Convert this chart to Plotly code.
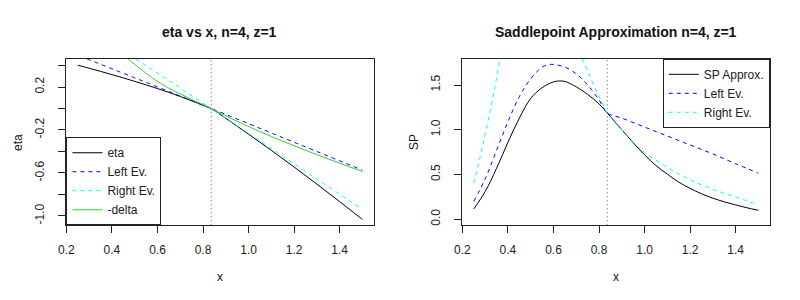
import plotly.graph_objects as go

# ---------------- data ----------------
x_split = 0.836  # vertical dotted reference line

# left panel: eta vs x
eta_x = [0.25, 0.3, 0.35, 0.4, 0.45, 0.5, 0.55, 0.6, 0.65, 0.7, 0.75, 0.8, 0.836,
         0.9, 1.0, 1.1, 1.2, 1.3, 1.4, 1.5]
eta_y = [0.404, 0.375, 0.346, 0.316, 0.285, 0.253, 0.22, 0.186, 0.15, 0.112, 0.072, 0.03, 0.0,
         -0.092, -0.239, -0.39, -0.545, -0.704, -0.867, -1.033]

left_ev_x = [0.29, 0.836, 1.5]
left_ev_y = [0.463, 0.0, -0.574]

right_ev_x = [0.504, 0.836, 1.5]
right_ev_y = [0.463, 0.0, -0.94]

delta_x = [0.47, 0.5, 0.533, 0.56, 0.591, 0.65, 0.7, 0.75, 0.8, 0.836,
           0.9, 1.0, 1.1, 1.2, 1.3, 1.4, 1.5]
delta_y = [0.463, 0.41, 0.357, 0.312, 0.265, 0.19, 0.135, 0.085, 0.037, 0.0,
           -0.068, -0.168, -0.26, -0.347, -0.43, -0.509, -0.586]

# right panel: saddlepoint approximation
sp_x = [0.25, 0.3, 0.35, 0.4, 0.45, 0.5, 0.55, 0.6, 0.625, 0.65, 0.7, 0.75, 0.8, 0.836,
        0.9, 0.95, 1.0, 1.05, 1.1, 1.15, 1.2, 1.25, 1.3, 1.35, 1.4, 1.45, 1.5]
sp_y = [0.115, 0.31, 0.57, 0.86, 1.13, 1.35, 1.47, 1.535, 1.545, 1.54, 1.48, 1.395, 1.29, 1.188,
        1.0, 0.855, 0.72, 0.6, 0.505, 0.415, 0.345, 0.285, 0.235, 0.195, 0.16, 0.128, 0.1]

sp_left_x = [0.25, 0.3, 0.35, 0.4, 0.45, 0.5, 0.55, 0.58, 0.6, 0.65, 0.7, 0.75, 0.8, 0.836,
             0.9, 1.0, 1.1, 1.2, 1.3, 1.4, 1.5]
sp_left_y = [0.2, 0.45, 0.77, 1.09, 1.37, 1.57, 1.7, 1.728, 1.73, 1.7, 1.625, 1.5, 1.335, 1.188,
             1.13, 1.03, 0.93, 0.83, 0.73, 0.62, 0.515]

sp_right_x = [0.25, 0.28, 0.31, 0.34, 0.365, None, 0.725, 0.75, 0.779, 0.808, 0.836,
              0.9, 0.95, 1.0, 1.05, 1.1, 1.15, 1.2, 1.25, 1.3, 1.35, 1.4, 1.45, 1.5]
sp_right_y = [0.404, 0.72, 1.07, 1.44, 1.793, None, 1.793, 1.66, 1.481, 1.332, 1.188,
              1.0, 0.865, 0.745, 0.66, 0.58, 0.505, 0.44, 0.385, 0.335, 0.29, 0.25, 0.205, 0.16]

x_ticks = [0.2, 0.4, 0.6, 0.8, 1.0, 1.2, 1.4]
x_ticklabels = ["0.2", "0.4", "0.6", "0.8", "1.0", "1.2", "1.4"]
eta_ticks = [-1.0, -0.8, -0.6, -0.4, -0.2, 0.0, 0.2, 0.4]
eta_ticklabels = ["-1.0", "", "-0.6", "", "-0.2", "", "0.2", ""]
sp_ticks = [0.0, 0.5, 1.0, 1.5]
sp_ticklabels = ["0.0", "0.5", "1.0", "1.5"]

# ---------------- figure ----------------
W, H = 800, 300
FONT = "Liberation Sans, Arial, Helvetica, sans-serif"
BLUE, CYAN, GREEN = "#0000FF", "#00FFFF", "#32CD32"
DASH = "4px,4px"

fig = go.Figure()

def line(xs, ys, name, color, dash, xa, ya, legend):
    fig.add_trace(go.Scatter(
        x=xs, y=ys, name=name, mode="lines", xaxis=xa, yaxis=ya, legend=legend,
        line=dict(color=color, width=1, dash=dash, shape="spline", smoothing=1.0),
        connectgaps=False, hoverinfo="skip"))

line(eta_x, eta_y, "eta", "black", "solid", "x", "y", "legend")
line(left_ev_x, left_ev_y, "Left Ev.", BLUE, DASH, "x", "y", "legend")
line(right_ev_x, right_ev_y, "Right Ev.", CYAN, DASH, "x", "y", "legend")
line(delta_x, delta_y, "-delta", GREEN, "solid", "x", "y", "legend")

line(sp_x, sp_y, "SP Approx.", "black", "solid", "x2", "y2", "legend2")
line(sp_left_x, sp_left_y, "Left Ev.", BLUE, DASH, "x2", "y2", "legend2")
line(sp_right_x, sp_right_y, "Right Ev.", CYAN, DASH, "x2", "y2", "legend2")

ydom = [1 - 226 / H, 1 - 59 / H]
axis_common = dict(showline=True, linecolor="#222", linewidth=1, mirror=True,
                   ticks="outside", ticklen=7, tickwidth=1, tickcolor="#222",
                   showgrid=False, zeroline=False,
                   tickfont=dict(family=FONT, size=12, color="#222"))

fig.update_layout(
    width=W, height=H, margin=dict(l=0, r=0, t=0, b=0),
    paper_bgcolor="white", plot_bgcolor="white",
    font=dict(family=FONT, size=12, color="#222"),
    xaxis=dict(domain=[59 / W, 369.5 / W], range=[0.2, 1.55], anchor="y",
               tickvals=x_ticks, ticktext=x_ticklabels, ticklabelstandoff=6, **axis_common),
    yaxis=dict(domain=ydom, range=[-1.087, 0.463], anchor="x",
               tickvals=eta_ticks, ticktext=eta_ticklabels, tickangle=-90,
               ticklabelstandoff=10, **axis_common),
    xaxis2=dict(domain=[459 / W, 769.5 / W], range=[0.2, 1.55], anchor="y2",
                tickvals=x_ticks, ticktext=x_ticklabels, ticklabelstandoff=6, **axis_common),
    yaxis2=dict(domain=ydom, range=[-0.067, 1.793], anchor="x2",
                tickvals=sp_ticks, ticktext=sp_ticklabels, tickangle=-90,
                ticklabelstandoff=10, **axis_common),
    legend=dict(x=59 / W, y=1 - 226 / H, xanchor="left", yanchor="bottom",
                bordercolor="#222", borderwidth=1, bgcolor="white",
                font=dict(family=FONT, size=12, color="#222"), tracegroupgap=0),
    legend2=dict(x=769.5 / W, y=1 - 59 / H, xanchor="right", yanchor="top",
                 bordercolor="#222", borderwidth=1, bgcolor="white",
                 font=dict(family=FONT, size=12, color="#222"), tracegroupgap=0),
    showlegend=True,
)

for xa in ["x", "x2"]:
    fig.add_shape(type="line", xref=xa, yref=("y domain" if xa == "x" else "y2 domain"),
                  x0=x_split, x1=x_split, y0=0, y1=1,
                  line=dict(color="#555", width=1, dash="1px,3px"))

ann = [
    dict(text="<b>eta vs x, n=4, z=1</b>", x=214 / W, y=1 - 31.7 / H, size=14, angle=0),
    dict(text="<b>Saddlepoint Approximation n=4, z=1</b>", x=614 / W, y=1 - 31.7 / H, size=14, angle=0),
    dict(text="x", x=214 / W, y=1 - 277.7 / H, size=12, angle=0),
    dict(text="x", x=614 / W, y=1 - 277.7 / H, size=12, angle=0),
    dict(text="eta", x=10 / W, y=1 - 142.5 / H, size=12, angle=-90),
    dict(text="SP", x=410 / W, y=1 - 142.5 / H, size=12, angle=-90),
]
for a in ann:
    fig.add_annotation(text=a["text"], x=a["x"], y=a["y"], xref="paper", yref="paper",
                       xanchor="center", yanchor="middle", showarrow=False, textangle=a["angle"],
                       font=dict(family=FONT, size=a["size"], color="#111"))

fig.write_html("out.html", config={"displayModeBar": False},
               post_script="document.body.style.margin='0px';")
